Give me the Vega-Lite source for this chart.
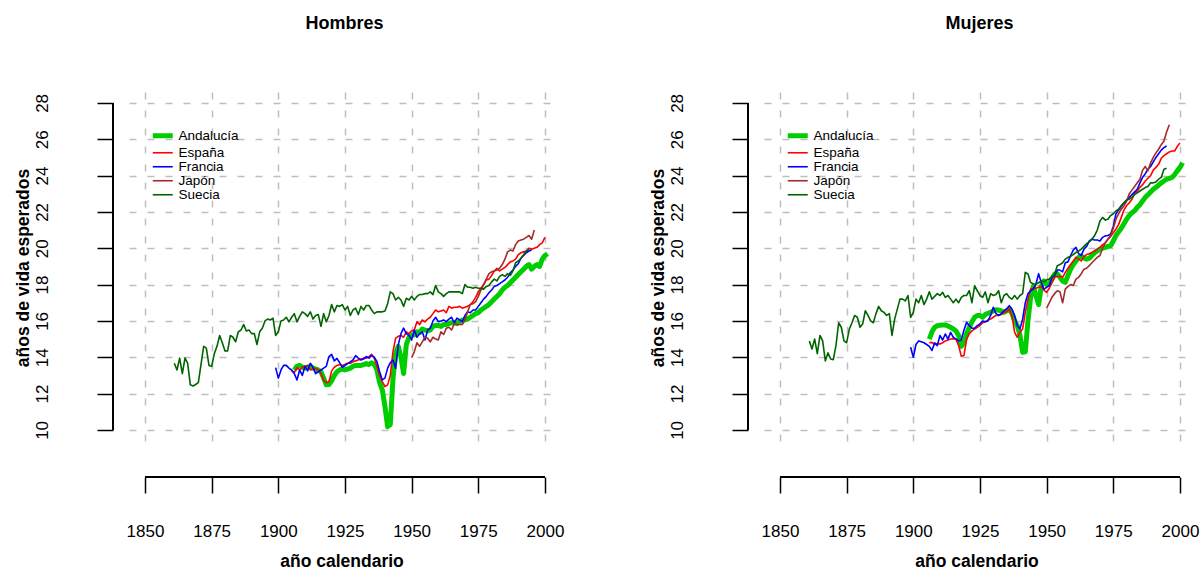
{
"$schema": "https://vega.github.io/schema/vega-lite/v6.json",
"background": "white",
"padding": {"left": 13, "top": 15, "right": 5, "bottom": 0},
"config": {
  "view": {"stroke": null},
  "font": "Liberation Sans",
  "axis": {"domain": false, "tickColor": "black", "tickWidth": 1.5, "tickSize": 16, "labelColor": "black", "labelFontSize": 17, "labelFont": "Liberation Sans", "titleFont": "Liberation Sans", "titleFontSize": 17.5, "titleFontWeight": "bold", "titleColor": "black", "grid": true, "gridColor": "#BEBEBE", "gridDash": [7, 11], "gridWidth": 1.5, "labelFlush": false, "labelOverlap": false},
  "title": {"fontSize": 18, "font": "Liberation Sans", "fontWeight": "bold", "color": "black", "anchor": "middle", "frame": "group", "baseline": "alphabetic", "offset": 59, "dx": 3},
  "legend": {"orient": "none", "legendX": 27, "legendY": 37, "symbolType": "stroke", "symbolSize": 400, "labelFontSize": 13.5, "labelFont": "Liberation Sans", "labelColor": "black", "labelOffset": 9, "rowPadding": -5.5, "padding": 0}
},
"bounds": "flush",
"spacing": 210,
"resolve": {"scale": {"color": "independent"}, "legend": {"color": "independent"}},
"datasets": {
"hombres": [
{"pais":"Andalucía","anio":1906,"valor":13.3},{"pais":"Andalucía","anio":1907,"valor":13.5},{"pais":"Andalucía","anio":1908,"valor":13.55},{"pais":"Andalucía","anio":1909,"valor":13.45},{"pais":"Andalucía","anio":1910,"valor":13.4},{"pais":"Andalucía","anio":1911,"valor":13.45},{"pais":"Andalucía","anio":1912,"valor":13.5},{"pais":"Andalucía","anio":1913,"valor":13.4},{"pais":"Andalucía","anio":1914,"valor":13.35},{"pais":"Andalucía","anio":1915,"valor":13.3},{"pais":"Andalucía","anio":1916,"valor":13.2},{"pais":"Andalucía","anio":1917,"valor":12.85},{"pais":"Andalucía","anio":1918,"valor":12.48},{"pais":"Andalucía","anio":1919,"valor":12.5},{"pais":"Andalucía","anio":1920,"valor":12.7},{"pais":"Andalucía","anio":1921,"valor":13.0},{"pais":"Andalucía","anio":1922,"valor":13.2},{"pais":"Andalucía","anio":1923,"valor":13.3},{"pais":"Andalucía","anio":1924,"valor":13.35},{"pais":"Andalucía","anio":1925,"valor":13.3},{"pais":"Andalucía","anio":1926,"valor":13.35},{"pais":"Andalucía","anio":1927,"valor":13.4},{"pais":"Andalucía","anio":1928,"valor":13.5},{"pais":"Andalucía","anio":1929,"valor":13.55},{"pais":"Andalucía","anio":1930,"valor":13.55},{"pais":"Andalucía","anio":1931,"valor":13.55},{"pais":"Andalucía","anio":1932,"valor":13.6},{"pais":"Andalucía","anio":1933,"valor":13.65},{"pais":"Andalucía","anio":1934,"valor":13.6},{"pais":"Andalucía","anio":1935,"valor":13.7},{"pais":"Andalucía","anio":1936,"valor":13.6},{"pais":"Andalucía","anio":1937,"valor":13.3},{"pais":"Andalucía","anio":1938,"valor":12.6},{"pais":"Andalucía","anio":1939,"valor":12.2},{"pais":"Andalucía","anio":1940,"valor":11.3},{"pais":"Andalucía","anio":1941,"valor":10.18},{"pais":"Andalucía","anio":1942,"valor":10.3},{"pais":"Andalucía","anio":1943,"valor":12.8},{"pais":"Andalucía","anio":1944,"valor":14.2},{"pais":"Andalucía","anio":1945,"valor":14.6},{"pais":"Andalucía","anio":1946,"valor":14.0},{"pais":"Andalucía","anio":1947,"valor":13.1},{"pais":"Andalucía","anio":1948,"valor":14.7},{"pais":"Andalucía","anio":1949,"valor":15.1},{"pais":"Andalucía","anio":1950,"valor":15.2},{"pais":"Andalucía","anio":1951,"valor":15.23},{"pais":"Andalucía","anio":1952,"valor":15.4},{"pais":"Andalucía","anio":1953,"valor":15.35},{"pais":"Andalucía","anio":1954,"valor":15.55},{"pais":"Andalucía","anio":1955,"valor":15.5},{"pais":"Andalucía","anio":1956,"valor":15.45},{"pais":"Andalucía","anio":1957,"valor":15.5},{"pais":"Andalucía","anio":1958,"valor":15.7},{"pais":"Andalucía","anio":1959,"valor":15.75},{"pais":"Andalucía","anio":1960,"valor":15.75},{"pais":"Andalucía","anio":1961,"valor":15.7},{"pais":"Andalucía","anio":1962,"valor":15.8},{"pais":"Andalucía","anio":1963,"valor":15.8},{"pais":"Andalucía","anio":1964,"valor":15.85},{"pais":"Andalucía","anio":1965,"valor":15.9},{"pais":"Andalucía","anio":1966,"valor":15.9},{"pais":"Andalucía","anio":1967,"valor":15.85},{"pais":"Andalucía","anio":1968,"valor":15.95},{"pais":"Andalucía","anio":1969,"valor":16.05},{"pais":"Andalucía","anio":1970,"valor":16.05},{"pais":"Andalucía","anio":1971,"valor":16.1},{"pais":"Andalucía","anio":1972,"valor":16.2},{"pais":"Andalucía","anio":1973,"valor":16.3},{"pais":"Andalucía","anio":1974,"valor":16.4},{"pais":"Andalucía","anio":1975,"valor":16.45},{"pais":"Andalucía","anio":1976,"valor":16.6},{"pais":"Andalucía","anio":1977,"valor":16.7},{"pais":"Andalucía","anio":1978,"valor":16.8},{"pais":"Andalucía","anio":1979,"valor":16.9},{"pais":"Andalucía","anio":1980,"valor":17.05},{"pais":"Andalucía","anio":1981,"valor":17.2},{"pais":"Andalucía","anio":1982,"valor":17.35},{"pais":"Andalucía","anio":1983,"valor":17.5},{"pais":"Andalucía","anio":1984,"valor":17.7},{"pais":"Andalucía","anio":1985,"valor":17.85},{"pais":"Andalucía","anio":1986,"valor":17.95},{"pais":"Andalucía","anio":1987,"valor":18.1},{"pais":"Andalucía","anio":1988,"valor":18.25},{"pais":"Andalucía","anio":1989,"valor":18.4},{"pais":"Andalucía","anio":1990,"valor":18.55},{"pais":"Andalucía","anio":1991,"valor":18.7},{"pais":"Andalucía","anio":1992,"valor":18.85},{"pais":"Andalucía","anio":1993,"valor":19.0},{"pais":"Andalucía","anio":1994,"valor":19.1},{"pais":"Andalucía","anio":1995,"valor":18.85},{"pais":"Andalucía","anio":1996,"valor":19.0},{"pais":"Andalucía","anio":1997,"valor":19.1},{"pais":"Andalucía","anio":1998,"valor":19.0},{"pais":"Andalucía","anio":1999,"valor":19.4},{"pais":"Andalucía","anio":2000,"valor":19.6},{"pais":"Andalucía","anio":2001,"valor":19.7},
{"pais":"España","anio":1905,"valor":13.25},{"pais":"España","anio":1906,"valor":13.15},{"pais":"España","anio":1907,"valor":13.43},{"pais":"España","anio":1908,"valor":13.3},{"pais":"España","anio":1909,"valor":13.45},{"pais":"España","anio":1910,"valor":13.5},{"pais":"España","anio":1911,"valor":13.55},{"pais":"España","anio":1912,"valor":13.3},{"pais":"España","anio":1913,"valor":13.35},{"pais":"España","anio":1914,"valor":13.4},{"pais":"España","anio":1915,"valor":13.3},{"pais":"España","anio":1916,"valor":13.1},{"pais":"España","anio":1917,"valor":12.75},{"pais":"España","anio":1918,"valor":12.6},{"pais":"España","anio":1919,"valor":12.65},{"pais":"España","anio":1920,"valor":13.25},{"pais":"España","anio":1921,"valor":13.45},{"pais":"España","anio":1922,"valor":13.55},{"pais":"España","anio":1923,"valor":13.6},{"pais":"España","anio":1924,"valor":13.55},{"pais":"España","anio":1925,"valor":13.6},{"pais":"España","anio":1926,"valor":13.67},{"pais":"España","anio":1927,"valor":13.67},{"pais":"España","anio":1928,"valor":13.75},{"pais":"España","anio":1929,"valor":13.8},{"pais":"España","anio":1930,"valor":13.85},{"pais":"España","anio":1931,"valor":13.9},{"pais":"España","anio":1932,"valor":13.95},{"pais":"España","anio":1933,"valor":13.95},{"pais":"España","anio":1934,"valor":14.03},{"pais":"España","anio":1935,"valor":14.16},{"pais":"España","anio":1936,"valor":13.94},{"pais":"España","anio":1937,"valor":13.5},{"pais":"España","anio":1938,"valor":13.0},{"pais":"España","anio":1939,"valor":12.66},{"pais":"España","anio":1940,"valor":12.39},{"pais":"España","anio":1941,"valor":12.48},{"pais":"España","anio":1942,"valor":13.0},{"pais":"España","anio":1943,"valor":14.3},{"pais":"España","anio":1944,"valor":15.05},{"pais":"España","anio":1945,"valor":15.15},{"pais":"España","anio":1946,"valor":15.2},{"pais":"España","anio":1947,"valor":15.1},{"pais":"España","anio":1948,"valor":15.4},{"pais":"España","anio":1949,"valor":15.3},{"pais":"España","anio":1950,"valor":15.45},{"pais":"España","anio":1951,"valor":15.5},{"pais":"España","anio":1952,"valor":15.96},{"pais":"España","anio":1953,"valor":15.8},{"pais":"España","anio":1954,"valor":16.05},{"pais":"España","anio":1955,"valor":15.95},{"pais":"España","anio":1956,"valor":16.1},{"pais":"España","anio":1957,"valor":16.2},{"pais":"España","anio":1958,"valor":16.4},{"pais":"España","anio":1959,"valor":16.6},{"pais":"España","anio":1960,"valor":16.5},{"pais":"España","anio":1961,"valor":16.55},{"pais":"España","anio":1962,"valor":16.6},{"pais":"España","anio":1963,"valor":16.45},{"pais":"España","anio":1964,"valor":16.8},{"pais":"España","anio":1965,"valor":16.7},{"pais":"España","anio":1966,"valor":16.75},{"pais":"España","anio":1967,"valor":16.75},{"pais":"España","anio":1968,"valor":16.8},{"pais":"España","anio":1969,"valor":16.7},{"pais":"España","anio":1970,"valor":16.75},{"pais":"España","anio":1971,"valor":16.8},{"pais":"España","anio":1972,"valor":16.9},{"pais":"España","anio":1973,"valor":17.05},{"pais":"España","anio":1974,"valor":17.3},{"pais":"España","anio":1975,"valor":17.6},{"pais":"España","anio":1976,"valor":17.8},{"pais":"España","anio":1977,"valor":18.0},{"pais":"España","anio":1978,"valor":18.25},{"pais":"España","anio":1979,"valor":18.3},{"pais":"España","anio":1980,"valor":18.5},{"pais":"España","anio":1981,"valor":18.75},{"pais":"España","anio":1982,"valor":18.9},{"pais":"España","anio":1983,"valor":18.75},{"pais":"España","anio":1984,"valor":18.85},{"pais":"España","anio":1985,"valor":18.95},{"pais":"España","anio":1986,"valor":19.1},{"pais":"España","anio":1987,"valor":19.25},{"pais":"España","anio":1988,"valor":19.3},{"pais":"España","anio":1989,"valor":19.4},{"pais":"España","anio":1990,"valor":19.65},{"pais":"España","anio":1991,"valor":19.75},{"pais":"España","anio":1992,"valor":19.8},{"pais":"España","anio":1993,"valor":19.85},{"pais":"España","anio":1994,"valor":20.0},{"pais":"España","anio":1995,"valor":19.95},{"pais":"España","anio":1996,"valor":20.0},{"pais":"España","anio":1997,"valor":20.05},{"pais":"España","anio":1998,"valor":20.2},{"pais":"España","anio":1999,"valor":20.3},{"pais":"España","anio":2000,"valor":20.6},
{"pais":"Francia","anio":1899,"valor":13.43},{"pais":"Francia","anio":1900,"valor":12.85},{"pais":"Francia","anio":1901,"valor":13.3},{"pais":"Francia","anio":1902,"valor":13.55},{"pais":"Francia","anio":1903,"valor":13.55},{"pais":"Francia","anio":1904,"valor":13.4},{"pais":"Francia","anio":1905,"valor":13.3},{"pais":"Francia","anio":1906,"valor":13.1},{"pais":"Francia","anio":1907,"valor":12.75},{"pais":"Francia","anio":1908,"valor":13.3},{"pais":"Francia","anio":1909,"valor":13.0},{"pais":"Francia","anio":1910,"valor":13.5},{"pais":"Francia","anio":1911,"valor":13.25},{"pais":"Francia","anio":1912,"valor":13.67},{"pais":"Francia","anio":1913,"valor":13.45},{"pais":"Francia","anio":1914,"valor":13.1},{"pais":"Francia","anio":1915,"valor":13.2},{"pais":"Francia","anio":1916,"valor":13.3},{"pais":"Francia","anio":1917,"valor":13.4},{"pais":"Francia","anio":1918,"valor":13.5},{"pais":"Francia","anio":1919,"valor":14.04},{"pais":"Francia","anio":1920,"valor":14.16},{"pais":"Francia","anio":1921,"valor":13.8},{"pais":"Francia","anio":1922,"valor":13.94},{"pais":"Francia","anio":1923,"valor":13.7},{"pais":"Francia","anio":1924,"valor":13.45},{"pais":"Francia","anio":1925,"valor":13.55},{"pais":"Francia","anio":1926,"valor":13.65},{"pais":"Francia","anio":1927,"valor":13.75},{"pais":"Francia","anio":1928,"valor":13.85},{"pais":"Francia","anio":1929,"valor":14.09},{"pais":"Francia","anio":1930,"valor":13.95},{"pais":"Francia","anio":1931,"valor":13.85},{"pais":"Francia","anio":1932,"valor":13.9},{"pais":"Francia","anio":1933,"valor":14.04},{"pais":"Francia","anio":1934,"valor":13.95},{"pais":"Francia","anio":1935,"valor":14.1},{"pais":"Francia","anio":1936,"valor":14.0},{"pais":"Francia","anio":1937,"valor":13.76},{"pais":"Francia","anio":1938,"valor":13.2},{"pais":"Francia","anio":1939,"valor":12.75},{"pais":"Francia","anio":1940,"valor":12.85},{"pais":"Francia","anio":1941,"valor":13.4},{"pais":"Francia","anio":1942,"valor":13.7},{"pais":"Francia","anio":1943,"valor":13.85},{"pais":"Francia","anio":1944,"valor":13.4},{"pais":"Francia","anio":1945,"valor":14.68},{"pais":"Francia","anio":1946,"valor":15.3},{"pais":"Francia","anio":1947,"valor":15.6},{"pais":"Francia","anio":1948,"valor":15.3},{"pais":"Francia","anio":1949,"valor":15.2},{"pais":"Francia","anio":1950,"valor":14.95},{"pais":"Francia","anio":1951,"valor":15.5},{"pais":"Francia","anio":1952,"valor":15.1},{"pais":"Francia","anio":1953,"valor":15.3},{"pais":"Francia","anio":1954,"valor":15.4},{"pais":"Francia","anio":1955,"valor":14.95},{"pais":"Francia","anio":1956,"valor":15.5},{"pais":"Francia","anio":1957,"valor":15.6},{"pais":"Francia","anio":1958,"valor":16.0},{"pais":"Francia","anio":1959,"valor":16.2},{"pais":"Francia","anio":1960,"valor":15.96},{"pais":"Francia","anio":1961,"valor":16.0},{"pais":"Francia","anio":1962,"valor":16.05},{"pais":"Francia","anio":1963,"valor":15.96},{"pais":"Francia","anio":1964,"valor":16.1},{"pais":"Francia","anio":1965,"valor":16.2},{"pais":"Francia","anio":1966,"valor":15.9},{"pais":"Francia","anio":1967,"valor":16.15},{"pais":"Francia","anio":1968,"valor":16.05},{"pais":"Francia","anio":1969,"valor":15.96},{"pais":"Francia","anio":1970,"valor":16.3},{"pais":"Francia","anio":1971,"valor":16.5},{"pais":"Francia","anio":1972,"valor":16.45},{"pais":"Francia","anio":1973,"valor":16.6},{"pais":"Francia","anio":1974,"valor":16.6},{"pais":"Francia","anio":1975,"valor":16.8},{"pais":"Francia","anio":1976,"valor":17.0},{"pais":"Francia","anio":1977,"valor":17.2},{"pais":"Francia","anio":1978,"valor":17.35},{"pais":"Francia","anio":1979,"valor":17.55},{"pais":"Francia","anio":1980,"valor":17.7},{"pais":"Francia","anio":1981,"valor":17.9},{"pais":"Francia","anio":1982,"valor":17.95},{"pais":"Francia","anio":1983,"valor":18.05},{"pais":"Francia","anio":1984,"valor":18.15},{"pais":"Francia","anio":1985,"valor":18.25},{"pais":"Francia","anio":1986,"valor":18.4},{"pais":"Francia","anio":1987,"valor":18.65},{"pais":"Francia","anio":1988,"valor":18.8},{"pais":"Francia","anio":1989,"valor":19.0},{"pais":"Francia","anio":1990,"valor":19.15},{"pais":"Francia","anio":1991,"valor":19.45},{"pais":"Francia","anio":1992,"valor":19.6},{"pais":"Francia","anio":1993,"valor":19.75},{"pais":"Francia","anio":1994,"valor":19.85},{"pais":"Francia","anio":1995,"valor":19.9},
{"pais":"Japón","anio":1950,"valor":13.98},{"pais":"Japón","anio":1951,"valor":14.3},{"pais":"Japón","anio":1952,"valor":14.8},{"pais":"Japón","anio":1953,"valor":14.6},{"pais":"Japón","anio":1954,"valor":14.85},{"pais":"Japón","anio":1955,"valor":15.1},{"pais":"Japón","anio":1956,"valor":15.05},{"pais":"Japón","anio":1957,"valor":14.85},{"pais":"Japón","anio":1958,"valor":15.1},{"pais":"Japón","anio":1959,"valor":15.0},{"pais":"Japón","anio":1960,"valor":14.95},{"pais":"Japón","anio":1961,"valor":15.4},{"pais":"Japón","anio":1962,"valor":15.25},{"pais":"Japón","anio":1963,"valor":15.6},{"pais":"Japón","anio":1964,"valor":15.65},{"pais":"Japón","anio":1965,"valor":15.5},{"pais":"Japón","anio":1966,"valor":15.85},{"pais":"Japón","anio":1967,"valor":15.8},{"pais":"Japón","anio":1968,"valor":15.8},{"pais":"Japón","anio":1969,"valor":15.8},{"pais":"Japón","anio":1970,"valor":16.05},{"pais":"Japón","anio":1971,"valor":16.5},{"pais":"Japón","anio":1972,"valor":16.9},{"pais":"Japón","anio":1973,"valor":16.95},{"pais":"Japón","anio":1974,"valor":17.05},{"pais":"Japón","anio":1975,"valor":17.35},{"pais":"Japón","anio":1976,"valor":17.7},{"pais":"Japón","anio":1977,"valor":18.0},{"pais":"Japón","anio":1978,"valor":18.3},{"pais":"Japón","anio":1979,"valor":18.6},{"pais":"Japón","anio":1980,"valor":18.7},{"pais":"Japón","anio":1981,"valor":18.75},{"pais":"Japón","anio":1982,"valor":18.8},{"pais":"Japón","anio":1983,"valor":18.9},{"pais":"Japón","anio":1984,"valor":19.1},{"pais":"Japón","anio":1985,"valor":19.4},{"pais":"Japón","anio":1986,"valor":19.8},{"pais":"Japón","anio":1987,"valor":19.9},{"pais":"Japón","anio":1988,"valor":19.85},{"pais":"Japón","anio":1989,"valor":20.2},{"pais":"Japón","anio":1990,"valor":20.4},{"pais":"Japón","anio":1991,"valor":20.45},{"pais":"Japón","anio":1992,"valor":20.5},{"pais":"Japón","anio":1993,"valor":20.6},{"pais":"Japón","anio":1994,"valor":20.7},{"pais":"Japón","anio":1995,"valor":20.5},{"pais":"Japón","anio":1996,"valor":21.0},
{"pais":"Suecia","anio":1861,"valor":13.67},{"pais":"Suecia","anio":1862,"valor":13.3},{"pais":"Suecia","anio":1863,"valor":13.95},{"pais":"Suecia","anio":1864,"valor":13.1},{"pais":"Suecia","anio":1865,"valor":13.95},{"pais":"Suecia","anio":1866,"valor":13.67},{"pais":"Suecia","anio":1867,"valor":12.48},{"pais":"Suecia","anio":1868,"valor":12.42},{"pais":"Suecia","anio":1869,"valor":12.5},{"pais":"Suecia","anio":1870,"valor":12.6},{"pais":"Suecia","anio":1871,"valor":13.6},{"pais":"Suecia","anio":1872,"valor":14.6},{"pais":"Suecia","anio":1873,"valor":14.5},{"pais":"Suecia","anio":1874,"valor":13.55},{"pais":"Suecia","anio":1875,"valor":13.5},{"pais":"Suecia","anio":1876,"valor":14.2},{"pais":"Suecia","anio":1877,"valor":14.6},{"pais":"Suecia","anio":1878,"valor":15.2},{"pais":"Suecia","anio":1879,"valor":14.8},{"pais":"Suecia","anio":1880,"valor":14.35},{"pais":"Suecia","anio":1881,"valor":14.35},{"pais":"Suecia","anio":1882,"valor":15.2},{"pais":"Suecia","anio":1883,"valor":15.1},{"pais":"Suecia","anio":1884,"valor":14.85},{"pais":"Suecia","anio":1885,"valor":15.4},{"pais":"Suecia","anio":1886,"valor":15.5},{"pais":"Suecia","anio":1887,"valor":15.8},{"pais":"Suecia","anio":1888,"valor":15.45},{"pais":"Suecia","anio":1889,"valor":15.5},{"pais":"Suecia","anio":1890,"valor":15.3},{"pais":"Suecia","anio":1891,"valor":15.3},{"pais":"Suecia","anio":1892,"valor":14.7},{"pais":"Suecia","anio":1893,"valor":15.4},{"pais":"Suecia","anio":1894,"valor":15.6},{"pais":"Suecia","anio":1895,"valor":16.0},{"pais":"Suecia","anio":1896,"valor":16.1},{"pais":"Suecia","anio":1897,"valor":16.05},{"pais":"Suecia","anio":1898,"valor":16.15},{"pais":"Suecia","anio":1899,"valor":15.2},{"pais":"Suecia","anio":1900,"valor":15.4},{"pais":"Suecia","anio":1901,"valor":16.0},{"pais":"Suecia","anio":1902,"valor":16.05},{"pais":"Suecia","anio":1903,"valor":16.2},{"pais":"Suecia","anio":1904,"valor":15.95},{"pais":"Suecia","anio":1905,"valor":16.2},{"pais":"Suecia","anio":1906,"valor":16.4},{"pais":"Suecia","anio":1907,"valor":15.95},{"pais":"Suecia","anio":1908,"valor":16.25},{"pais":"Suecia","anio":1909,"valor":16.5},{"pais":"Suecia","anio":1910,"valor":16.4},{"pais":"Suecia","anio":1911,"valor":16.25},{"pais":"Suecia","anio":1912,"valor":16.5},{"pais":"Suecia","anio":1913,"valor":16.1},{"pais":"Suecia","anio":1914,"valor":16.3},{"pais":"Suecia","anio":1915,"valor":16.35},{"pais":"Suecia","anio":1916,"valor":15.7},{"pais":"Suecia","anio":1917,"valor":16.4},{"pais":"Suecia","anio":1918,"valor":15.95},{"pais":"Suecia","anio":1919,"valor":16.3},{"pais":"Suecia","anio":1920,"valor":16.9},{"pais":"Suecia","anio":1921,"valor":16.5},{"pais":"Suecia","anio":1922,"valor":16.85},{"pais":"Suecia","anio":1923,"valor":16.8},{"pais":"Suecia","anio":1924,"valor":16.9},{"pais":"Suecia","anio":1925,"valor":16.6},{"pais":"Suecia","anio":1926,"valor":16.8},{"pais":"Suecia","anio":1927,"valor":16.3},{"pais":"Suecia","anio":1928,"valor":16.6},{"pais":"Suecia","anio":1929,"valor":16.7},{"pais":"Suecia","anio":1930,"valor":16.35},{"pais":"Suecia","anio":1931,"valor":16.8},{"pais":"Suecia","anio":1932,"valor":16.6},{"pais":"Suecia","anio":1933,"valor":16.85},{"pais":"Suecia","anio":1934,"valor":16.85},{"pais":"Suecia","anio":1935,"valor":16.6},{"pais":"Suecia","anio":1936,"valor":16.4},{"pais":"Suecia","anio":1937,"valor":16.5},{"pais":"Suecia","anio":1938,"valor":16.5},{"pais":"Suecia","anio":1939,"valor":16.5},{"pais":"Suecia","anio":1940,"valor":16.55},{"pais":"Suecia","anio":1941,"valor":16.95},{"pais":"Suecia","anio":1942,"valor":17.6},{"pais":"Suecia","anio":1943,"valor":17.5},{"pais":"Suecia","anio":1944,"valor":17.15},{"pais":"Suecia","anio":1945,"valor":17.3},{"pais":"Suecia","anio":1946,"valor":17.15},{"pais":"Suecia","anio":1947,"valor":16.8},{"pais":"Suecia","anio":1948,"valor":17.25},{"pais":"Suecia","anio":1949,"valor":17.15},{"pais":"Suecia","anio":1950,"valor":17.35},{"pais":"Suecia","anio":1951,"valor":17.15},{"pais":"Suecia","anio":1952,"valor":17.35},{"pais":"Suecia","anio":1953,"valor":17.45},{"pais":"Suecia","anio":1954,"valor":17.45},{"pais":"Suecia","anio":1955,"valor":17.5},{"pais":"Suecia","anio":1956,"valor":17.5},{"pais":"Suecia","anio":1957,"valor":17.6},{"pais":"Suecia","anio":1958,"valor":17.45},{"pais":"Suecia","anio":1959,"valor":17.95},{"pais":"Suecia","anio":1960,"valor":17.6},{"pais":"Suecia","anio":1961,"valor":17.5},{"pais":"Suecia","anio":1962,"valor":17.35},{"pais":"Suecia","anio":1963,"valor":17.5},{"pais":"Suecia","anio":1964,"valor":17.6},{"pais":"Suecia","anio":1965,"valor":17.6},{"pais":"Suecia","anio":1966,"valor":17.6},{"pais":"Suecia","anio":1967,"valor":17.6},{"pais":"Suecia","anio":1968,"valor":17.6},{"pais":"Suecia","anio":1969,"valor":17.5},{"pais":"Suecia","anio":1970,"valor":18.0},{"pais":"Suecia","anio":1971,"valor":17.85},{"pais":"Suecia","anio":1972,"valor":17.85},{"pais":"Suecia","anio":1973,"valor":17.8},{"pais":"Suecia","anio":1974,"valor":17.85},{"pais":"Suecia","anio":1975,"valor":17.8},{"pais":"Suecia","anio":1976,"valor":17.8},{"pais":"Suecia","anio":1977,"valor":17.75},{"pais":"Suecia","anio":1978,"valor":17.9},{"pais":"Suecia","anio":1979,"valor":17.95},{"pais":"Suecia","anio":1980,"valor":18.15},{"pais":"Suecia","anio":1981,"valor":18.3},{"pais":"Suecia","anio":1982,"valor":18.2},{"pais":"Suecia","anio":1983,"valor":18.45},{"pais":"Suecia","anio":1984,"valor":18.55},{"pais":"Suecia","anio":1985,"valor":18.45},{"pais":"Suecia","anio":1986,"valor":18.6},{"pais":"Suecia","anio":1987,"valor":18.5},{"pais":"Suecia","anio":1988,"valor":18.75},{"pais":"Suecia","anio":1989,"valor":19.2},{"pais":"Suecia","anio":1990,"valor":19.3},{"pais":"Suecia","anio":1991,"valor":19.45},{"pais":"Suecia","anio":1992,"valor":19.65},{"pais":"Suecia","anio":1993,"valor":19.85},{"pais":"Suecia","anio":1994,"valor":19.95}
],
"mujeres": [
{"pais":"Andalucía","anio":1906,"valor":15.0},{"pais":"Andalucía","anio":1907,"valor":15.4},{"pais":"Andalucía","anio":1908,"valor":15.65},{"pais":"Andalucía","anio":1909,"valor":15.74},{"pais":"Andalucía","anio":1910,"valor":15.76},{"pais":"Andalucía","anio":1911,"valor":15.77},{"pais":"Andalucía","anio":1912,"valor":15.78},{"pais":"Andalucía","anio":1913,"valor":15.72},{"pais":"Andalucía","anio":1914,"valor":15.65},{"pais":"Andalucía","anio":1915,"valor":15.56},{"pais":"Andalucía","anio":1916,"valor":15.45},{"pais":"Andalucía","anio":1917,"valor":15.2},{"pais":"Andalucía","anio":1918,"valor":14.6},{"pais":"Andalucía","anio":1919,"valor":14.8},{"pais":"Andalucía","anio":1920,"valor":15.3},{"pais":"Andalucía","anio":1921,"valor":15.65},{"pais":"Andalucía","anio":1922,"valor":15.95},{"pais":"Andalucía","anio":1923,"valor":16.2},{"pais":"Andalucía","anio":1924,"valor":16.3},{"pais":"Andalucía","anio":1925,"valor":16.3},{"pais":"Andalucía","anio":1926,"valor":16.2},{"pais":"Andalucía","anio":1927,"valor":16.35},{"pais":"Andalucía","anio":1928,"valor":16.42},{"pais":"Andalucía","anio":1929,"valor":16.47},{"pais":"Andalucía","anio":1930,"valor":16.55},{"pais":"Andalucía","anio":1931,"valor":16.62},{"pais":"Andalucía","anio":1932,"valor":16.6},{"pais":"Andalucía","anio":1933,"valor":16.55},{"pais":"Andalucía","anio":1934,"valor":16.47},{"pais":"Andalucía","anio":1935,"valor":16.55},{"pais":"Andalucía","anio":1936,"valor":16.66},{"pais":"Andalucía","anio":1937,"valor":16.4},{"pais":"Andalucía","anio":1938,"valor":16.0},{"pais":"Andalucía","anio":1939,"valor":15.74},{"pais":"Andalucía","anio":1940,"valor":15.2},{"pais":"Andalucía","anio":1941,"valor":14.27},{"pais":"Andalucía","anio":1942,"valor":14.3},{"pais":"Andalucía","anio":1943,"valor":16.0},{"pais":"Andalucía","anio":1944,"valor":17.3},{"pais":"Andalucía","anio":1945,"valor":17.9},{"pais":"Andalucía","anio":1946,"valor":17.4},{"pais":"Andalucía","anio":1947,"valor":16.9},{"pais":"Andalucía","anio":1948,"valor":17.9},{"pais":"Andalucía","anio":1949,"valor":18.2},{"pais":"Andalucía","anio":1950,"valor":18.0},{"pais":"Andalucía","anio":1951,"valor":18.05},{"pais":"Andalucía","anio":1952,"valor":18.3},{"pais":"Andalucía","anio":1953,"valor":18.58},{"pais":"Andalucía","anio":1954,"valor":18.6},{"pais":"Andalucía","anio":1955,"valor":18.4},{"pais":"Andalucía","anio":1956,"valor":18.2},{"pais":"Andalucía","anio":1957,"valor":18.12},{"pais":"Andalucía","anio":1958,"valor":18.5},{"pais":"Andalucía","anio":1959,"valor":18.85},{"pais":"Andalucía","anio":1960,"valor":19.1},{"pais":"Andalucía","anio":1961,"valor":19.3},{"pais":"Andalucía","anio":1962,"valor":19.5},{"pais":"Andalucía","anio":1963,"valor":19.58},{"pais":"Andalucía","anio":1964,"valor":19.45},{"pais":"Andalucía","anio":1965,"valor":19.4},{"pais":"Andalucía","anio":1966,"valor":19.45},{"pais":"Andalucía","anio":1967,"valor":19.6},{"pais":"Andalucía","anio":1968,"valor":19.75},{"pais":"Andalucía","anio":1969,"valor":19.85},{"pais":"Andalucía","anio":1970,"valor":19.95},{"pais":"Andalucía","anio":1971,"valor":20.0},{"pais":"Andalucía","anio":1972,"valor":20.05},{"pais":"Andalucía","anio":1973,"valor":20.1},{"pais":"Andalucía","anio":1974,"valor":20.14},{"pais":"Andalucía","anio":1975,"valor":20.4},{"pais":"Andalucía","anio":1976,"valor":20.7},{"pais":"Andalucía","anio":1977,"valor":20.9},{"pais":"Andalucía","anio":1978,"valor":21.1},{"pais":"Andalucía","anio":1979,"valor":21.35},{"pais":"Andalucía","anio":1980,"valor":21.6},{"pais":"Andalucía","anio":1981,"valor":21.8},{"pais":"Andalucía","anio":1982,"valor":21.95},{"pais":"Andalucía","anio":1983,"valor":22.06},{"pais":"Andalucía","anio":1984,"valor":22.25},{"pais":"Andalucía","anio":1985,"valor":22.4},{"pais":"Andalucía","anio":1986,"valor":22.6},{"pais":"Andalucía","anio":1987,"valor":22.8},{"pais":"Andalucía","anio":1988,"valor":22.95},{"pais":"Andalucía","anio":1989,"valor":23.1},{"pais":"Andalucía","anio":1990,"valor":23.25},{"pais":"Andalucía","anio":1991,"valor":23.35},{"pais":"Andalucía","anio":1992,"valor":23.47},{"pais":"Andalucía","anio":1993,"valor":23.6},{"pais":"Andalucía","anio":1994,"valor":23.7},{"pais":"Andalucía","anio":1995,"valor":23.8},{"pais":"Andalucía","anio":1996,"valor":23.85},{"pais":"Andalucía","anio":1997,"valor":23.9},{"pais":"Andalucía","anio":1998,"valor":24.05},{"pais":"Andalucía","anio":1999,"valor":24.26},{"pais":"Andalucía","anio":2000,"valor":24.45},{"pais":"Andalucía","anio":2001,"valor":24.7},
{"pais":"España","anio":1906,"valor":14.8},{"pais":"España","anio":1907,"valor":14.82},{"pais":"España","anio":1908,"valor":14.7},{"pais":"España","anio":1909,"valor":14.75},{"pais":"España","anio":1910,"valor":14.73},{"pais":"España","anio":1911,"valor":14.8},{"pais":"España","anio":1912,"valor":14.9},{"pais":"España","anio":1913,"valor":14.95},{"pais":"España","anio":1914,"valor":15.0},{"pais":"España","anio":1915,"valor":15.02},{"pais":"España","anio":1916,"valor":15.0},{"pais":"España","anio":1917,"valor":14.64},{"pais":"España","anio":1918,"valor":14.05},{"pais":"España","anio":1919,"valor":14.1},{"pais":"España","anio":1920,"valor":15.0},{"pais":"España","anio":1921,"valor":15.3},{"pais":"España","anio":1922,"valor":15.45},{"pais":"España","anio":1923,"valor":15.55},{"pais":"España","anio":1924,"valor":15.65},{"pais":"España","anio":1925,"valor":15.75},{"pais":"España","anio":1926,"valor":15.9},{"pais":"España","anio":1927,"valor":15.95},{"pais":"España","anio":1928,"valor":16.05},{"pais":"España","anio":1929,"valor":16.1},{"pais":"España","anio":1930,"valor":16.2},{"pais":"España","anio":1931,"valor":16.3},{"pais":"España","anio":1932,"valor":16.3},{"pais":"España","anio":1933,"valor":16.35},{"pais":"España","anio":1934,"valor":16.47},{"pais":"España","anio":1935,"valor":16.5},{"pais":"España","anio":1936,"valor":16.66},{"pais":"España","anio":1937,"valor":16.3},{"pais":"España","anio":1938,"valor":15.37},{"pais":"España","anio":1939,"valor":15.1},{"pais":"España","anio":1940,"valor":15.37},{"pais":"España","anio":1941,"valor":15.56},{"pais":"España","anio":1942,"valor":16.47},{"pais":"España","anio":1943,"valor":17.2},{"pais":"España","anio":1944,"valor":17.75},{"pais":"España","anio":1945,"valor":17.8},{"pais":"España","anio":1946,"valor":17.8},{"pais":"España","anio":1947,"valor":17.85},{"pais":"España","anio":1948,"valor":17.9},{"pais":"España","anio":1949,"valor":17.7},{"pais":"España","anio":1950,"valor":17.57},{"pais":"España","anio":1951,"valor":17.8},{"pais":"España","anio":1952,"valor":18.12},{"pais":"España","anio":1953,"valor":18.4},{"pais":"España","anio":1954,"valor":18.45},{"pais":"España","anio":1955,"valor":18.45},{"pais":"España","anio":1956,"valor":18.4},{"pais":"España","anio":1957,"valor":18.67},{"pais":"España","anio":1958,"valor":18.9},{"pais":"España","anio":1959,"valor":19.1},{"pais":"España","anio":1960,"valor":19.3},{"pais":"España","anio":1961,"valor":19.5},{"pais":"España","anio":1962,"valor":19.4},{"pais":"España","anio":1963,"valor":19.3},{"pais":"España","anio":1964,"valor":19.55},{"pais":"España","anio":1965,"valor":19.65},{"pais":"España","anio":1966,"valor":19.7},{"pais":"España","anio":1967,"valor":19.77},{"pais":"España","anio":1968,"valor":19.85},{"pais":"España","anio":1969,"valor":19.95},{"pais":"España","anio":1970,"valor":20.05},{"pais":"España","anio":1971,"valor":20.2},{"pais":"España","anio":1972,"valor":20.3},{"pais":"España","anio":1973,"valor":20.5},{"pais":"España","anio":1974,"valor":20.65},{"pais":"España","anio":1975,"valor":20.85},{"pais":"España","anio":1976,"valor":21.05},{"pais":"España","anio":1977,"valor":21.3},{"pais":"España","anio":1978,"valor":21.7},{"pais":"España","anio":1979,"valor":22.1},{"pais":"España","anio":1980,"valor":22.35},{"pais":"España","anio":1981,"valor":22.5},{"pais":"España","anio":1982,"valor":22.7},{"pais":"España","anio":1983,"valor":23.0},{"pais":"España","anio":1984,"valor":23.15},{"pais":"España","anio":1985,"valor":23.35},{"pais":"España","anio":1986,"valor":23.5},{"pais":"España","anio":1987,"valor":23.7},{"pais":"España","anio":1988,"valor":23.85},{"pais":"España","anio":1989,"valor":24.0},{"pais":"España","anio":1990,"valor":24.3},{"pais":"España","anio":1991,"valor":24.45},{"pais":"España","anio":1992,"valor":24.62},{"pais":"España","anio":1993,"valor":24.95},{"pais":"España","anio":1994,"valor":25.1},{"pais":"España","anio":1995,"valor":25.2},{"pais":"España","anio":1996,"valor":25.3},{"pais":"España","anio":1997,"valor":25.35},{"pais":"España","anio":1998,"valor":25.35},{"pais":"España","anio":1999,"valor":25.6},{"pais":"España","anio":2000,"valor":25.8},
{"pais":"Francia","anio":1899,"valor":14.55},{"pais":"Francia","anio":1900,"valor":14.0},{"pais":"Francia","anio":1901,"valor":14.7},{"pais":"Francia","anio":1902,"valor":14.9},{"pais":"Francia","anio":1903,"valor":14.85},{"pais":"Francia","anio":1904,"valor":14.8},{"pais":"Francia","anio":1905,"valor":14.7},{"pais":"Francia","anio":1906,"valor":14.6},{"pais":"Francia","anio":1907,"valor":14.37},{"pais":"Francia","anio":1908,"valor":14.8},{"pais":"Francia","anio":1909,"valor":14.64},{"pais":"Francia","anio":1910,"valor":15.2},{"pais":"Francia","anio":1911,"valor":14.95},{"pais":"Francia","anio":1912,"valor":15.28},{"pais":"Francia","anio":1913,"valor":15.0},{"pais":"Francia","anio":1914,"valor":15.37},{"pais":"Francia","anio":1915,"valor":15.1},{"pais":"Francia","anio":1916,"valor":15.0},{"pais":"Francia","anio":1917,"valor":14.9},{"pais":"Francia","anio":1918,"valor":14.95},{"pais":"Francia","anio":1919,"valor":15.5},{"pais":"Francia","anio":1920,"valor":15.92},{"pais":"Francia","anio":1921,"valor":15.74},{"pais":"Francia","anio":1922,"valor":15.6},{"pais":"Francia","anio":1923,"valor":15.6},{"pais":"Francia","anio":1924,"valor":15.74},{"pais":"Francia","anio":1925,"valor":15.83},{"pais":"Francia","anio":1926,"valor":16.0},{"pais":"Francia","anio":1927,"valor":15.95},{"pais":"Francia","anio":1928,"valor":16.0},{"pais":"Francia","anio":1929,"valor":16.3},{"pais":"Francia","anio":1930,"valor":16.75},{"pais":"Francia","anio":1931,"valor":16.4},{"pais":"Francia","anio":1932,"valor":16.3},{"pais":"Francia","anio":1933,"valor":16.4},{"pais":"Francia","anio":1934,"valor":16.55},{"pais":"Francia","anio":1935,"valor":16.66},{"pais":"Francia","anio":1936,"valor":16.84},{"pais":"Francia","anio":1937,"valor":16.65},{"pais":"Francia","anio":1938,"valor":16.3},{"pais":"Francia","anio":1939,"valor":15.74},{"pais":"Francia","anio":1940,"valor":15.56},{"pais":"Francia","anio":1941,"valor":16.1},{"pais":"Francia","anio":1942,"valor":17.0},{"pais":"Francia","anio":1943,"valor":17.5},{"pais":"Francia","anio":1944,"valor":17.66},{"pais":"Francia","anio":1945,"valor":17.75},{"pais":"Francia","anio":1946,"valor":18.03},{"pais":"Francia","anio":1947,"valor":18.6},{"pais":"Francia","anio":1948,"valor":18.1},{"pais":"Francia","anio":1949,"valor":17.75},{"pais":"Francia","anio":1950,"valor":17.85},{"pais":"Francia","anio":1951,"valor":17.94},{"pais":"Francia","anio":1952,"valor":18.4},{"pais":"Francia","anio":1953,"valor":18.49},{"pais":"Francia","anio":1954,"valor":18.8},{"pais":"Francia","anio":1955,"valor":18.8},{"pais":"Francia","anio":1956,"valor":18.7},{"pais":"Francia","anio":1957,"valor":19.2},{"pais":"Francia","anio":1958,"valor":19.25},{"pais":"Francia","anio":1959,"valor":19.6},{"pais":"Francia","anio":1960,"valor":19.9},{"pais":"Francia","anio":1961,"valor":20.05},{"pais":"Francia","anio":1962,"valor":19.7},{"pais":"Francia","anio":1963,"valor":19.6},{"pais":"Francia","anio":1964,"valor":19.95},{"pais":"Francia","anio":1965,"valor":20.1},{"pais":"Francia","anio":1966,"valor":20.4},{"pais":"Francia","anio":1967,"valor":20.5},{"pais":"Francia","anio":1968,"valor":20.45},{"pais":"Francia","anio":1969,"valor":20.45},{"pais":"Francia","anio":1970,"valor":20.4},{"pais":"Francia","anio":1971,"valor":20.6},{"pais":"Francia","anio":1972,"valor":20.68},{"pais":"Francia","anio":1973,"valor":20.7},{"pais":"Francia","anio":1974,"valor":20.78},{"pais":"Francia","anio":1975,"valor":21.2},{"pais":"Francia","anio":1976,"valor":21.9},{"pais":"Francia","anio":1977,"valor":22.1},{"pais":"Francia","anio":1978,"valor":22.3},{"pais":"Francia","anio":1979,"valor":22.5},{"pais":"Francia","anio":1980,"valor":22.65},{"pais":"Francia","anio":1981,"valor":22.8},{"pais":"Francia","anio":1982,"valor":22.95},{"pais":"Francia","anio":1983,"valor":23.1},{"pais":"Francia","anio":1984,"valor":23.25},{"pais":"Francia","anio":1985,"valor":23.6},{"pais":"Francia","anio":1986,"valor":23.9},{"pais":"Francia","anio":1987,"valor":24.1},{"pais":"Francia","anio":1988,"valor":24.35},{"pais":"Francia","anio":1989,"valor":24.5},{"pais":"Francia","anio":1990,"valor":24.75},{"pais":"Francia","anio":1991,"valor":25.0},{"pais":"Francia","anio":1992,"valor":25.2},{"pais":"Francia","anio":1993,"valor":25.4},{"pais":"Francia","anio":1994,"valor":25.54},{"pais":"Francia","anio":1995,"valor":25.63},
{"pais":"Japón","anio":1950,"valor":16.7},{"pais":"Japón","anio":1951,"valor":17.0},{"pais":"Japón","anio":1952,"valor":17.3},{"pais":"Japón","anio":1953,"valor":17.5},{"pais":"Japón","anio":1954,"valor":17.66},{"pais":"Japón","anio":1955,"valor":17.6},{"pais":"Japón","anio":1956,"valor":17.0},{"pais":"Japón","anio":1957,"valor":17.75},{"pais":"Japón","anio":1958,"valor":17.9},{"pais":"Japón","anio":1959,"valor":18.0},{"pais":"Japón","anio":1960,"valor":17.95},{"pais":"Japón","anio":1961,"valor":18.3},{"pais":"Japón","anio":1962,"valor":18.4},{"pais":"Japón","anio":1963,"valor":18.6},{"pais":"Japón","anio":1964,"valor":18.85},{"pais":"Japón","anio":1965,"valor":18.9},{"pais":"Japón","anio":1966,"valor":19.04},{"pais":"Japón","anio":1967,"valor":19.2},{"pais":"Japón","anio":1968,"valor":19.35},{"pais":"Japón","anio":1969,"valor":19.5},{"pais":"Japón","anio":1970,"valor":19.6},{"pais":"Japón","anio":1971,"valor":20.0},{"pais":"Japón","anio":1972,"valor":20.3},{"pais":"Japón","anio":1973,"valor":20.5},{"pais":"Japón","anio":1974,"valor":20.7},{"pais":"Japón","anio":1975,"valor":21.1},{"pais":"Japón","anio":1976,"valor":21.6},{"pais":"Japón","anio":1977,"valor":21.9},{"pais":"Japón","anio":1978,"valor":22.15},{"pais":"Japón","anio":1979,"valor":22.33},{"pais":"Japón","anio":1980,"valor":22.6},{"pais":"Japón","anio":1981,"valor":23.0},{"pais":"Japón","anio":1982,"valor":23.2},{"pais":"Japón","anio":1983,"valor":23.4},{"pais":"Japón","anio":1984,"valor":23.6},{"pais":"Japón","anio":1985,"valor":23.8},{"pais":"Japón","anio":1986,"valor":24.3},{"pais":"Japón","anio":1987,"valor":24.5},{"pais":"Japón","anio":1988,"valor":24.26},{"pais":"Japón","anio":1989,"valor":24.7},{"pais":"Japón","anio":1990,"valor":25.0},{"pais":"Japón","anio":1991,"valor":25.25},{"pais":"Japón","anio":1992,"valor":25.45},{"pais":"Japón","anio":1993,"valor":25.7},{"pais":"Japón","anio":1994,"valor":25.9},{"pais":"Japón","anio":1995,"valor":26.4},{"pais":"Japón","anio":1996,"valor":26.8},
{"pais":"Suecia","anio":1861,"valor":14.9},{"pais":"Suecia","anio":1862,"valor":14.45},{"pais":"Suecia","anio":1863,"valor":15.0},{"pais":"Suecia","anio":1864,"valor":14.2},{"pais":"Suecia","anio":1865,"valor":15.2},{"pais":"Suecia","anio":1866,"valor":14.9},{"pais":"Suecia","anio":1867,"valor":13.8},{"pais":"Suecia","anio":1868,"valor":14.25},{"pais":"Suecia","anio":1869,"valor":13.9},{"pais":"Suecia","anio":1870,"valor":13.87},{"pais":"Suecia","anio":1871,"valor":14.65},{"pais":"Suecia","anio":1872,"valor":15.9},{"pais":"Suecia","anio":1873,"valor":15.65},{"pais":"Suecia","anio":1874,"valor":14.9},{"pais":"Suecia","anio":1875,"valor":14.8},{"pais":"Suecia","anio":1876,"valor":15.55},{"pais":"Suecia","anio":1877,"valor":15.9},{"pais":"Suecia","anio":1878,"valor":16.3},{"pais":"Suecia","anio":1879,"valor":16.2},{"pais":"Suecia","anio":1880,"valor":15.65},{"pais":"Suecia","anio":1881,"valor":15.83},{"pais":"Suecia","anio":1882,"valor":16.56},{"pais":"Suecia","anio":1883,"valor":16.3},{"pais":"Suecia","anio":1884,"valor":16.0},{"pais":"Suecia","anio":1885,"valor":15.9},{"pais":"Suecia","anio":1886,"valor":16.4},{"pais":"Suecia","anio":1887,"valor":16.8},{"pais":"Suecia","anio":1888,"valor":16.56},{"pais":"Suecia","anio":1889,"valor":16.47},{"pais":"Suecia","anio":1890,"valor":16.3},{"pais":"Suecia","anio":1891,"valor":16.4},{"pais":"Suecia","anio":1892,"valor":15.2},{"pais":"Suecia","anio":1893,"valor":16.1},{"pais":"Suecia","anio":1894,"valor":16.65},{"pais":"Suecia","anio":1895,"valor":17.2},{"pais":"Suecia","anio":1896,"valor":17.2},{"pais":"Suecia","anio":1897,"valor":17.1},{"pais":"Suecia","anio":1898,"valor":17.4},{"pais":"Suecia","anio":1899,"valor":16.2},{"pais":"Suecia","anio":1900,"valor":16.47},{"pais":"Suecia","anio":1901,"valor":17.2},{"pais":"Suecia","anio":1902,"valor":17.0},{"pais":"Suecia","anio":1903,"valor":17.4},{"pais":"Suecia","anio":1904,"valor":16.9},{"pais":"Suecia","anio":1905,"valor":17.2},{"pais":"Suecia","anio":1906,"valor":17.6},{"pais":"Suecia","anio":1907,"valor":17.2},{"pais":"Suecia","anio":1908,"valor":17.35},{"pais":"Suecia","anio":1909,"valor":17.5},{"pais":"Suecia","anio":1910,"valor":17.4},{"pais":"Suecia","anio":1911,"valor":17.57},{"pais":"Suecia","anio":1912,"valor":17.3},{"pais":"Suecia","anio":1913,"valor":17.4},{"pais":"Suecia","anio":1914,"valor":17.2},{"pais":"Suecia","anio":1915,"valor":17.0},{"pais":"Suecia","anio":1916,"valor":17.2},{"pais":"Suecia","anio":1917,"valor":17.0},{"pais":"Suecia","anio":1918,"valor":17.3},{"pais":"Suecia","anio":1919,"valor":17.4},{"pais":"Suecia","anio":1920,"valor":17.4},{"pais":"Suecia","anio":1921,"valor":17.66},{"pais":"Suecia","anio":1922,"valor":17.0},{"pais":"Suecia","anio":1923,"valor":17.94},{"pais":"Suecia","anio":1924,"valor":17.66},{"pais":"Suecia","anio":1925,"valor":17.4},{"pais":"Suecia","anio":1926,"valor":17.3},{"pais":"Suecia","anio":1927,"valor":17.6},{"pais":"Suecia","anio":1928,"valor":17.0},{"pais":"Suecia","anio":1929,"valor":17.5},{"pais":"Suecia","anio":1930,"valor":17.4},{"pais":"Suecia","anio":1931,"valor":17.45},{"pais":"Suecia","anio":1932,"valor":17.66},{"pais":"Suecia","anio":1933,"valor":17.0},{"pais":"Suecia","anio":1934,"valor":17.4},{"pais":"Suecia","anio":1935,"valor":17.5},{"pais":"Suecia","anio":1936,"valor":17.3},{"pais":"Suecia","anio":1937,"valor":17.2},{"pais":"Suecia","anio":1938,"valor":17.4},{"pais":"Suecia","anio":1939,"valor":17.2},{"pais":"Suecia","anio":1940,"valor":17.4},{"pais":"Suecia","anio":1941,"valor":17.5},{"pais":"Suecia","anio":1942,"valor":18.67},{"pais":"Suecia","anio":1943,"valor":18.58},{"pais":"Suecia","anio":1944,"valor":18.12},{"pais":"Suecia","anio":1945,"valor":18.03},{"pais":"Suecia","anio":1946,"valor":18.03},{"pais":"Suecia","anio":1947,"valor":18.1},{"pais":"Suecia","anio":1948,"valor":18.2},{"pais":"Suecia","anio":1949,"valor":18.15},{"pais":"Suecia","anio":1950,"valor":18.25},{"pais":"Suecia","anio":1951,"valor":18.3},{"pais":"Suecia","anio":1952,"valor":18.45},{"pais":"Suecia","anio":1953,"valor":18.58},{"pais":"Suecia","anio":1954,"valor":19.04},{"pais":"Suecia","anio":1955,"valor":19.1},{"pais":"Suecia","anio":1956,"valor":19.2},{"pais":"Suecia","anio":1957,"valor":19.4},{"pais":"Suecia","anio":1958,"valor":19.5},{"pais":"Suecia","anio":1959,"valor":19.55},{"pais":"Suecia","anio":1960,"valor":19.65},{"pais":"Suecia","anio":1961,"valor":19.77},{"pais":"Suecia","anio":1962,"valor":19.85},{"pais":"Suecia","anio":1963,"valor":19.95},{"pais":"Suecia","anio":1964,"valor":20.1},{"pais":"Suecia","anio":1965,"valor":20.25},{"pais":"Suecia","anio":1966,"valor":20.35},{"pais":"Suecia","anio":1967,"valor":20.5},{"pais":"Suecia","anio":1968,"valor":20.7},{"pais":"Suecia","anio":1969,"valor":21.0},{"pais":"Suecia","anio":1970,"valor":21.5},{"pais":"Suecia","anio":1971,"valor":21.7},{"pais":"Suecia","anio":1972,"valor":21.55},{"pais":"Suecia","anio":1973,"valor":21.6},{"pais":"Suecia","anio":1974,"valor":21.8},{"pais":"Suecia","anio":1975,"valor":21.9},{"pais":"Suecia","anio":1976,"valor":22.05},{"pais":"Suecia","anio":1977,"valor":22.15},{"pais":"Suecia","anio":1978,"valor":22.35},{"pais":"Suecia","anio":1979,"valor":22.5},{"pais":"Suecia","anio":1980,"valor":22.65},{"pais":"Suecia","anio":1981,"valor":22.7},{"pais":"Suecia","anio":1982,"valor":22.8},{"pais":"Suecia","anio":1983,"valor":22.95},{"pais":"Suecia","anio":1984,"valor":23.05},{"pais":"Suecia","anio":1985,"valor":23.15},{"pais":"Suecia","anio":1986,"valor":23.25},{"pais":"Suecia","anio":1987,"valor":23.34},{"pais":"Suecia","anio":1988,"valor":23.4},{"pais":"Suecia","anio":1989,"valor":23.6},{"pais":"Suecia","anio":1990,"valor":23.6},{"pais":"Suecia","anio":1991,"valor":23.65},{"pais":"Suecia","anio":1992,"valor":23.8},{"pais":"Suecia","anio":1993,"valor":23.9},{"pais":"Suecia","anio":1994,"valor":24.35},{"pais":"Suecia","anio":1995,"valor":24.4}
]
},
"hconcat": [
{
  "width": 425, "height": 351,
  "title": {"text": "Hombres"},
  "data": {"name": "hombres"},
  "layer": [
    {"transform": [{"filter": "datum.pais === 'Andalucía'"}],
     "mark": {"type": "line", "strokeWidth": 5, "strokeJoin": "round"},
     "encoding": {
       "x": {"field": "anio", "type": "quantitative", "scale": {"domain": [1844, 2003.4], "nice": false, "zero": false}, "axis": {"values": [1850,1875,1900,1925,1950,1975,2000], "tickCount": 20, "format": "d", "offset": 34, "labelPadding": 30, "title": "año calendario", "titlePadding": 13, "labelOverlap": false}},
       "y": {"field": "valor", "type": "quantitative", "scale": {"domain": [9.28, 28.6], "nice": false, "zero": false}, "axis": {"values": [10,12,14,16,18,20,22,24,26,28], "tickCount": 20, "offset": 16, "labelAngle": 270, "labelAlign": "center", "labelBaseline": "bottom", "labelPadding": 46, "title": "años de vida esperados", "titlePadding": 1, "labelOverlap": false}},
       "color": {"field": "pais", "type": "nominal", "scale": {"domain": ["Andalucía","España","Francia","Japón","Suecia"], "range": ["#00CD00","#FF0000","#0000FF","#A52A2A","#006400"]}, "legend": {"title": null, "encode": {"symbols": {"update": {"strokeWidth": {"signal": "datum.value === 'Andalucía' ? 5 : 1.6"}}}}}}
     }},
    {"transform": [{"filter": "datum.pais !== 'Andalucía'"}],
     "mark": {"type": "line", "strokeWidth": 1.6, "strokeJoin": "round"},
     "encoding": {
       "x": {"field": "anio", "type": "quantitative"},
       "y": {"field": "valor", "type": "quantitative"},
       "color": {"field": "pais", "type": "nominal"}
     }},
    {"mark": {"type": "rule", "color": "black", "strokeWidth": 1.5},
     "encoding": {"x": {"datum": 1838, "type": "quantitative"}, "y": {"datum": 10, "type": "quantitative"}, "y2": {"datum": 28}}},
    {"mark": {"type": "rule", "color": "black", "strokeWidth": 1.5},
     "encoding": {"x": {"datum": 1850, "type": "quantitative"}, "x2": {"datum": 2000}, "y": {"datum": 7.41, "type": "quantitative"}}}
  ]
},
{
  "width": 425, "height": 351,
  "title": {"text": "Mujeres"},
  "data": {"name": "mujeres"},
  "layer": [
    {"transform": [{"filter": "datum.pais === 'Andalucía'"}],
     "mark": {"type": "line", "strokeWidth": 5, "strokeJoin": "round"},
     "encoding": {
       "x": {"field": "anio", "type": "quantitative", "scale": {"domain": [1844, 2003.4], "nice": false, "zero": false}, "axis": {"values": [1850,1875,1900,1925,1950,1975,2000], "tickCount": 20, "format": "d", "offset": 34, "labelPadding": 30, "title": "año calendario", "titlePadding": 13, "labelOverlap": false}},
       "y": {"field": "valor", "type": "quantitative", "scale": {"domain": [9.28, 28.6], "nice": false, "zero": false}, "axis": {"values": [10,12,14,16,18,20,22,24,26,28], "tickCount": 20, "offset": 16, "labelAngle": 270, "labelAlign": "center", "labelBaseline": "bottom", "labelPadding": 46, "title": "años de vida esperados", "titlePadding": 1, "labelOverlap": false}},
       "color": {"field": "pais", "type": "nominal", "scale": {"domain": ["Andalucía","España","Francia","Japón","Suecia"], "range": ["#00CD00","#FF0000","#0000FF","#A52A2A","#006400"]}, "legend": {"title": null, "encode": {"symbols": {"update": {"strokeWidth": {"signal": "datum.value === 'Andalucía' ? 5 : 1.6"}}}}}}
     }},
    {"transform": [{"filter": "datum.pais !== 'Andalucía'"}],
     "mark": {"type": "line", "strokeWidth": 1.6, "strokeJoin": "round"},
     "encoding": {
       "x": {"field": "anio", "type": "quantitative"},
       "y": {"field": "valor", "type": "quantitative"},
       "color": {"field": "pais", "type": "nominal"}
     }},
    {"mark": {"type": "rule", "color": "black", "strokeWidth": 1.5},
     "encoding": {"x": {"datum": 1838, "type": "quantitative"}, "y": {"datum": 10, "type": "quantitative"}, "y2": {"datum": 28}}},
    {"mark": {"type": "rule", "color": "black", "strokeWidth": 1.5},
     "encoding": {"x": {"datum": 1850, "type": "quantitative"}, "x2": {"datum": 2000}, "y": {"datum": 7.41, "type": "quantitative"}}}
  ]
}
]
}
